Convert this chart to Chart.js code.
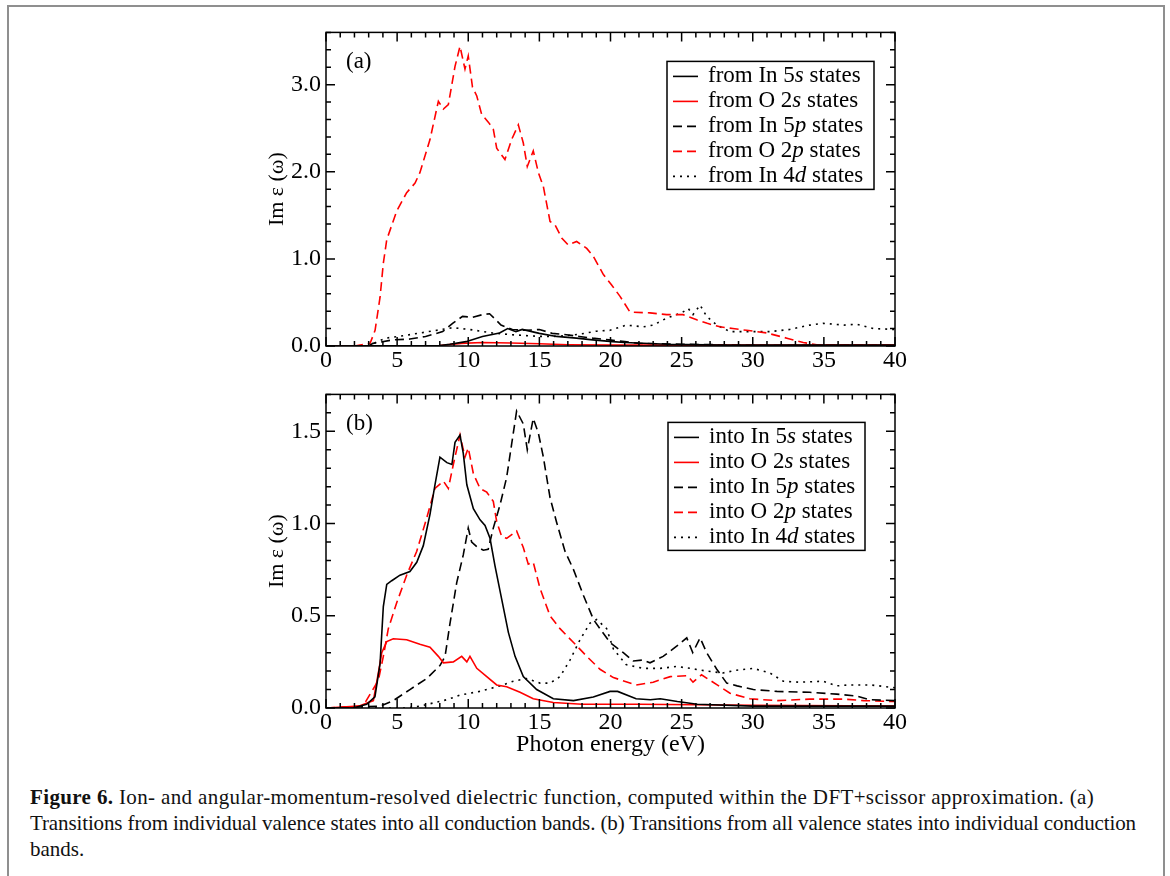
<!DOCTYPE html>
<html>
<head>
<meta charset="utf-8">
<script src="https://cdn.jsdelivr.net/npm/chart.js@4.4.1/dist/chart.umd.min.js"></script>
<style>
  body { margin: 0; background: #fff; width: 1170px; height: 876px; overflow: hidden; position: relative; font-family: "Liberation Serif", serif; }
  #frame { position: absolute; left: 7px; top: 5px; width: 1154px; height: 900px; border: 2px solid #8f8f8f; }
  .box { position: absolute; left: 200px; width: 720px; }
  #boxA { top: 13px; height: 377px; }
  #boxB { top: 375px; height: 387px; }
  #caption { position: absolute; left: 30px; top: 784px; font-size: 21px; line-height: 26px; color: #111; white-space: nowrap; }
  #caption span { display: inline-block; }
</style>
</head>
<body>
<div id="frame"></div>
<div class="box" id="boxA"><canvas id="chartA"></canvas></div>
<div class="box" id="boxB"><canvas id="chartB"></canvas></div>
<div id="caption">
  <span data-w="1064"><b>Figure 6.</b> Ion- and angular-momentum-resolved dielectric function, computed within the DFT+scissor approximation. (a)</span><br>
  <span data-w="1106">Transitions from individual valence states into all conduction bands. (b) Transitions from all valence states into individual conduction</span><br>
  <span>bands.</span>
</div>
<script>
// ---- panel (a): transitions from individual valence states ----
const a5sX = [0, 8, 8.7, 9.84, 11.0, 12.2, 12.77, 13.35, 13.8, 15.0, 16.2, 17.6, 18.75, 20.15, 21, 24, 28, 40];
const a5sY = [0, 0.005, 0.02, 0.05, 0.11, 0.15, 0.20, 0.165, 0.19, 0.145, 0.11, 0.09, 0.07, 0.05, 0.04, 0.02, 0.01, 0.01];

const a2sX = [0, 8, 9.5, 11, 13, 15, 17, 20, 40];
const a2sY = [0, 0.005, 0.03, 0.04, 0.035, 0.025, 0.015, 0.01, 0.01];

const a5pX = [0, 3.0, 3.3, 4.7, 5.9, 7.0, 8.2, 8.9, 9.6, 10.3, 11.0, 11.5, 11.95, 12.3, 13.1, 14.06, 15.0, 15.9, 16.9, 17.8, 18.75, 19.9, 21, 22, 25, 30, 40];
const a5pY = [0, 0, 0.03, 0.07, 0.08, 0.11, 0.165, 0.26, 0.34, 0.33, 0.36, 0.37, 0.30, 0.24, 0.19, 0.18, 0.19, 0.145, 0.13, 0.11, 0.09, 0.07, 0.05, 0.03, 0.02, 0.01, 0.005];

const a2pX = [0, 2, 3.1, 3.45, 3.8, 4.03, 4.27, 4.97, 5.67, 6.26, 6.6, 7.31, 7.9, 8.25, 8.6, 9.07, 9.42, 9.77, 10.0, 10.3, 10.6, 10.94, 11.41, 11.76, 12.0, 12.58, 13.05, 13.52, 13.87, 14.15, 14.57, 14.93, 15.28, 15.75, 16.1, 16.57, 17.03, 17.62, 18.33, 18.79, 19.5, 20.08, 20.67, 21.37, 22.78, 23.95, 25.1, 26.06, 26.8, 27.7, 28.6, 29.57, 30.98, 32.4, 33.55, 34.5, 40];
const a2pY = [0, 0, 0.03, 0.18, 0.56, 0.95, 1.22, 1.55, 1.76, 1.87, 1.99, 2.37, 2.81, 2.72, 2.77, 3.21, 3.44, 3.18, 3.33, 2.97, 2.87, 2.66, 2.57, 2.49, 2.27, 2.14, 2.37, 2.54, 2.33, 2.06, 2.24, 1.99, 1.83, 1.43, 1.39, 1.24, 1.16, 1.20, 1.12, 1.03, 0.82, 0.70, 0.57, 0.39, 0.38, 0.36, 0.36, 0.30, 0.26, 0.22, 0.20, 0.18, 0.15, 0.09, 0.04, 0.015, 0.01];

const a4dX = [0, 3.0, 3.5, 4.2, 5.5, 7.0, 8.9, 10.07, 11.7, 13, 14, 15, 16, 17, 18, 19, 19.97, 21.1, 22.3, 23.0, 23.95, 25.0, 25.47, 25.8, 26.3, 26.76, 27.47, 28.4, 29.8, 31.2, 32.6, 34.0, 34.96, 36.4, 37.3, 38.5, 40];
const a4dY = [0, 0, 0.04, 0.09, 0.12, 0.16, 0.21, 0.19, 0.15, 0.13, 0.12, 0.11, 0.11, 0.12, 0.14, 0.17, 0.18, 0.24, 0.22, 0.24, 0.32, 0.38, 0.43, 0.36, 0.47, 0.34, 0.24, 0.165, 0.165, 0.165, 0.19, 0.24, 0.26, 0.24, 0.25, 0.20, 0.19];

// ---- panel (b): transitions into individual conduction states ----
const b5sX = [0, 1.9, 2.86, 3.44, 3.8, 4.03, 4.27, 4.62, 5.2, 5.9, 6.38, 6.84, 7.31, 7.66, 8.01, 8.5, 8.85, 9.07, 9.42, 9.65, 9.9, 10.36, 10.83, 11.18, 11.53, 11.88, 12.35, 12.82, 13.29, 13.87, 14.81, 15.98, 17.4, 18.79, 19.97, 20.5, 21.8, 22.8, 23.5, 24.7, 26.1, 30, 40];
const b5sY = [0, 0, 0.02, 0.06, 0.24, 0.55, 0.67, 0.69, 0.72, 0.74, 0.79, 0.88, 1.05, 1.21, 1.36, 1.33, 1.32, 1.44, 1.48, 1.38, 1.21, 1.08, 1.02, 0.99, 0.92, 0.77, 0.59, 0.41, 0.28, 0.17, 0.10, 0.05, 0.04, 0.06, 0.09, 0.09, 0.05, 0.045, 0.05, 0.035, 0.02, 0.01, 0.01];

const b2sX = [0, 2.3, 3.33, 3.68, 3.92, 4.27, 4.73, 5.67, 6.6, 7.31, 7.9, 8.25, 8.95, 9.54, 9.9, 10.12, 10.6, 11.3, 12.0, 12.7, 13.64, 14.57, 15.98, 18, 22, 30, 40];
const b2sY = [0, 0.01, 0.04, 0.19, 0.30, 0.36, 0.375, 0.37, 0.345, 0.33, 0.28, 0.245, 0.25, 0.28, 0.25, 0.28, 0.215, 0.17, 0.125, 0.115, 0.085, 0.05, 0.03, 0.02, 0.02, 0.015, 0.01];

const b5pX = [0, 3.8, 4.73, 5.9, 7.08, 8.01, 8.37, 8.72, 9.19, 9.65, 10.0, 10.24, 10.6, 11.06, 11.4, 11.76, 12.23, 12.7, 13.05, 13.4, 13.87, 14.15, 14.57, 14.93, 15.28, 15.75, 16.2, 16.8, 17.4, 18.1, 18.8, 19.26, 19.97, 20.9, 21.6, 22.3, 22.78, 23.7, 24.65, 25.36, 25.78, 26.3, 26.76, 27.47, 28.17, 28.9, 30.04, 31.7, 34.0, 35.9, 37.3, 38.2, 40];
const b5pY = [0, 0.01, 0.04, 0.10, 0.16, 0.23, 0.28, 0.46, 0.68, 0.83, 0.975, 0.90, 0.875, 0.855, 0.86, 0.975, 1.10, 1.25, 1.43, 1.61, 1.54, 1.40, 1.57, 1.49, 1.36, 1.14, 1.01, 0.85, 0.75, 0.61, 0.48, 0.43, 0.355, 0.30, 0.255, 0.26, 0.245, 0.28, 0.335, 0.38, 0.30, 0.38, 0.30, 0.21, 0.135, 0.12, 0.10, 0.09, 0.085, 0.075, 0.065, 0.045, 0.04];

const b2pX = [0, 2.6, 3.68, 4.03, 4.38, 4.97, 5.67, 6.38, 7.08, 7.66, 8.25, 8.6, 8.95, 9.42, 9.77, 10.0, 10.36, 10.83, 11.3, 11.76, 12.0, 12.35, 12.7, 13.4, 13.87, 14.22, 14.57, 15.04, 15.75, 16.45, 17.4, 18.33, 19.26, 20.2, 21.8, 23.0, 24.2, 25.4, 25.8, 26.4, 27.5, 28.4, 29.8, 31.7, 34.0, 36.4, 37.8, 40];
const b2pY = [0, 0.01, 0.15, 0.28, 0.43, 0.57, 0.72, 0.85, 1.03, 1.19, 1.23, 1.19, 1.32, 1.48, 1.36, 1.41, 1.27, 1.19, 1.17, 1.12, 1.01, 0.93, 0.92, 0.96, 0.87, 0.78, 0.79, 0.65, 0.50, 0.43, 0.355, 0.28, 0.21, 0.165, 0.125, 0.14, 0.17, 0.175, 0.14, 0.18, 0.125, 0.08, 0.05, 0.04, 0.048, 0.048, 0.04, 0.035];

const b4dX = [0, 5.6, 6.6, 8.5, 9.42, 10.8, 12.23, 13.17, 14.1, 15.04, 15.75, 16.45, 17.15, 17.86, 18.56, 19.03, 19.73, 20.2, 21.1, 22.3, 23.5, 24.65, 25.6, 26.76, 27.9, 28.87, 30.04, 31.2, 32.15, 33.3, 34.96, 35.9, 36.8, 38.3, 40];
const b4dY = [0, 0, 0.01, 0.045, 0.07, 0.09, 0.12, 0.145, 0.16, 0.135, 0.135, 0.17, 0.26, 0.37, 0.46, 0.48, 0.43, 0.32, 0.235, 0.215, 0.215, 0.225, 0.215, 0.20, 0.19, 0.205, 0.215, 0.19, 0.145, 0.14, 0.145, 0.12, 0.125, 0.125, 0.11];

// legend labels: [plain, italic, plain]
const legendA = [['from In 5', 's', ' states'], ['from O 2', 's', ' states'], ['from In 5', 'p', ' states'], ['from O 2', 'p', ' states'], ['from In 4', 'd', ' states']];
const legendB = [['into In 5', 's', ' states'], ['into O 2', 's', ' states'], ['into In 5', 'p', ' states'], ['into O 2', 'p', ' states'], ['into In 4', 'd', ' states']];

const xTicks = [0, 5, 10, 15, 20, 25, 30, 35, 40];
const FONT = '"Liberation Serif", "Times New Roman", serif';

const styles = [
  { color: '#000', dash: [] },
  { color: '#ff0000', dash: [] },
  { color: '#000', dash: [9, 5] },
  { color: '#ff0000', dash: [9, 5] },
  { color: '#000', dash: [2, 5] }
];

function zip(xs, ys) {
  return xs.map((x, i) => ({ x: x, y: ys[i] }));
}

function makeSets(pairs, labels) {
  return pairs.map((p, i) => ({
    label: labels[i].join(''),
    data: zip(p[0], p[1]),
    borderColor: styles[i].color,
    borderDash: styles[i].dash,
    borderWidth: 1.6,
    pointRadius: 0,
    tension: 0,
    fill: false
  }));
}

// box around the plot plus inward ticks on all four sides
const frameTicks = {
  id: 'frameTicks',
  afterDatasetsDraw(chart, args, opts) {
    const { ctx, chartArea: a, scales: { x, y } } = chart;
    ctx.save();
    ctx.strokeStyle = '#000';
    ctx.lineWidth = 1.5;
    ctx.setLineDash([]);
    ctx.strokeRect(a.left, a.top, a.right - a.left, a.bottom - a.top);
    ctx.beginPath();
    for (let v = 0; v <= 40; v++) {
      const px = x.getPixelForValue(v);
      const len = v % 5 === 0 ? 9 : 5;
      ctx.moveTo(px, a.bottom); ctx.lineTo(px, a.bottom - len);
      ctx.moveTo(px, a.top); ctx.lineTo(px, a.top + len);
    }
    const n = Math.round((y.max - y.min) / opts.minor);
    for (let i = 0; i <= n; i++) {
      const v = y.min + i * opts.minor;
      const r = v / opts.major;
      const len = Math.abs(r - Math.round(r)) < 1e-6 ? 9 : 5;
      const py = y.getPixelForValue(v);
      ctx.moveTo(a.left, py); ctx.lineTo(a.left + len, py);
      ctx.moveTo(a.right, py); ctx.lineTo(a.right - len, py);
    }
    ctx.stroke();
    ctx.restore();
  }
};

// boxed legend with italic orbital letters, plus the panel tag
const boxLegend = {
  id: 'boxLegend',
  afterDraw(chart, args, opts) {
    const { ctx, chartArea: a } = chart;
    const left = a.right - opts.right - opts.width;
    const top = a.top + opts.top;
    const rowH = 25;
    ctx.save();
    ctx.fillStyle = '#fff';
    ctx.fillRect(left, top, opts.width, rowH * 5 + 3);
    ctx.strokeStyle = '#000';
    ctx.lineWidth = 1.5;
    ctx.setLineDash([]);
    ctx.strokeRect(left, top, opts.width, rowH * 5 + 3);
    ctx.textBaseline = 'middle';
    chart.data.datasets.forEach((ds, i) => {
      const cy = top + 15 + i * rowH;
      ctx.beginPath();
      ctx.strokeStyle = ds.borderColor;
      ctx.lineWidth = 1.6;
      ctx.setLineDash(ds.borderDash);
      ctx.moveTo(left + 6, cy);
      ctx.lineTo(left + 31, cy);
      ctx.stroke();
      ctx.fillStyle = '#000';
      let tx = left + 41;
      opts.labels[i].forEach((part, k) => {
        ctx.font = (k === 1 ? 'italic ' : '') + '23px ' + FONT;
        ctx.fillText(part, tx, cy);
        tx += ctx.measureText(part).width;
      });
    });
    ctx.font = '23px ' + FONT;
    ctx.fillText(opts.tag, a.left + 20, a.top + 30);
    ctx.restore();
  }
};

function makeChart(id, sets, yMax, yStep, minor, legendOpts, xTitle, xHeight) {
  return new Chart(document.getElementById(id), {
    type: 'line',
    data: { datasets: sets },
    options: {
      responsive: true,
      maintainAspectRatio: false,
      animation: false,
      layout: { padding: { left: 0, top: 6, right: 25, bottom: 0 } },
      plugins: {
        legend: { display: false },
        tooltip: { enabled: false },
        frameTicks: { major: yStep, minor: minor },
        boxLegend: legendOpts
      },
      scales: {
        x: {
          type: 'linear', min: 0, max: 40,
          afterBuildTicks: s => { s.ticks = xTicks.map(v => ({ value: v })); },
          afterFit: s => { s.height = xHeight; },
          grid: { display: false, drawTicks: false },
          border: { display: false },
          ticks: { color: '#000', padding: 0, maxRotation: 0, font: { family: FONT, size: 24 } },
          title: { display: !!xTitle, text: xTitle, color: '#000', padding: { top: 0, bottom: 3 }, font: { family: FONT, size: 24 } }
        },
        y: {
          type: 'linear', min: 0, max: yMax,
          afterFit: s => { s.width = 126; },
          grid: { display: false, drawTicks: false },
          border: { display: false },
          ticks: { color: '#000', stepSize: yStep, includeBounds: false, padding: 5, callback: v => v.toFixed(1), font: { family: FONT, size: 24 } },
          title: { display: true, text: 'Im ε (ω)', color: '#000', padding: { top: 64, bottom: 0 }, font: { family: FONT, size: 22 } }
        }
      }
    },
    plugins: [frameTicks, boxLegend]
  });
}

const setsA = makeSets([[a5sX, a5sY], [a2sX, a2sY], [a5pX, a5pY], [a2pX, a2pY], [a4dX, a4dY]], legendA);
const setsB = makeSets([[b5sX, b5sY], [b2sX, b2sY], [b5pX, b5pY], [b2pX, b2pY], [b4dX, b4dY]], legendB);

makeChart('chartA', setsA, 3.6, 1, 0.2, { labels: legendA, right: 21, top: 29, width: 207, tag: '(a)' }, '', 44);
makeChart('chartB', setsB, 1.7, 0.5, 0.1, { labels: legendB, right: 30, top: 28, width: 197, tag: '(b)' }, 'Photon energy (eV)', 54);

// stretch each caption line to the width it has in the printed figure
document.querySelectorAll('#caption span[data-w]').forEach(sp => {
  const target = +sp.dataset.w;
  const w = sp.getBoundingClientRect().width;
  const n = sp.textContent.length;
  sp.style.letterSpacing = ((target - w) / n).toFixed(3) + 'px';
});
</script>
</body>
</html>
